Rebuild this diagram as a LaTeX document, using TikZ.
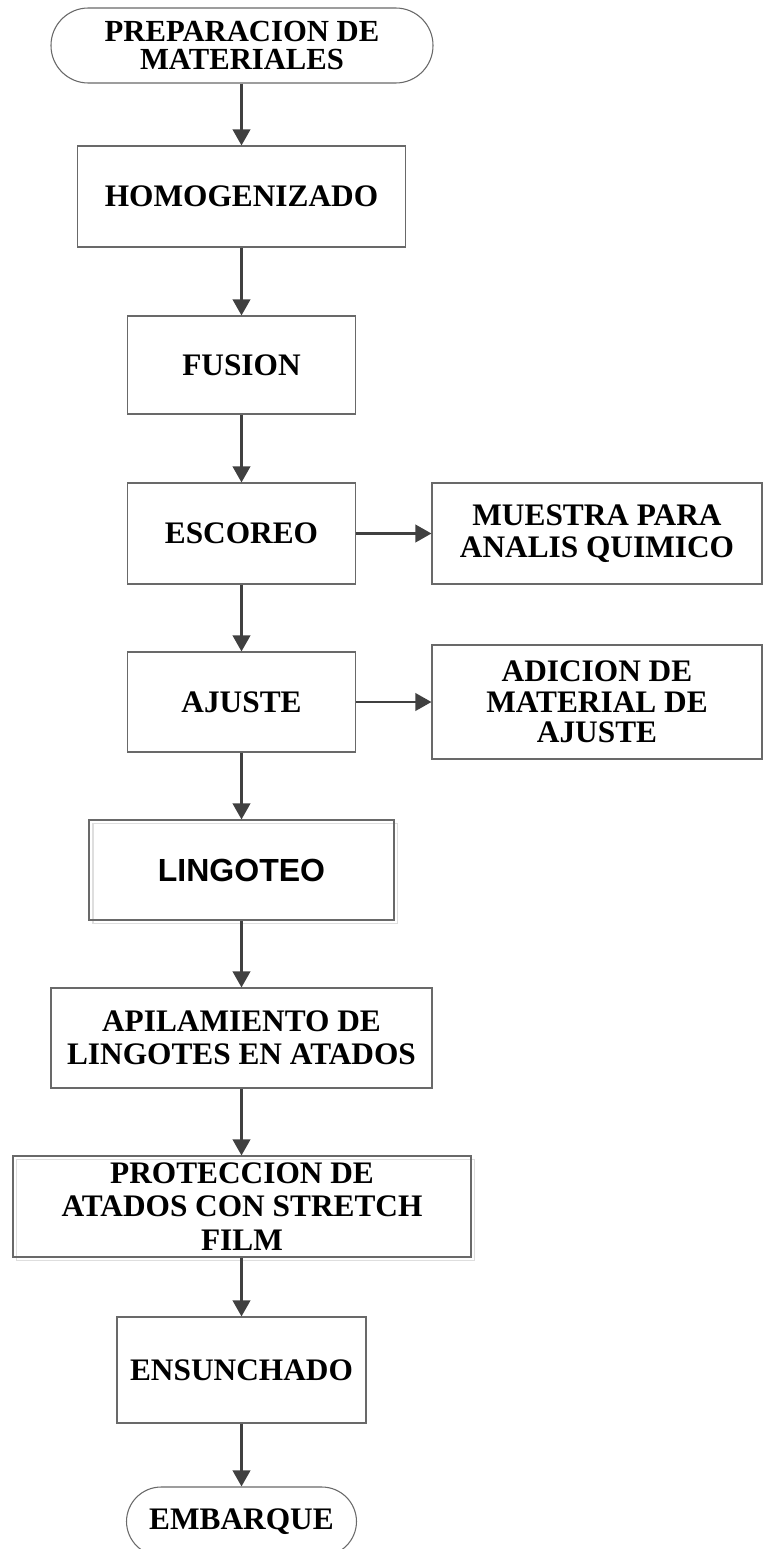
\documentclass[tikz,border=0pt]{standalone}
\usepackage{fontspec}
\setmainfont{Liberation Serif}
\newfontfamily\arialfont{Liberation Sans}
\usetikzlibrary{arrows.meta}
\definecolor{boxline}{RGB}{105,105,105}
\definecolor{arrowc}{RGB}{64,64,64}
\definecolor{shadowc}{RGB}{222,222,222}
\tikzset{
  boxnode/.style={draw=boxline, line width=0.8pt, rectangle, align=center, inner sep=0pt,
    font=\bfseries\fontsize{23.5}{23.5}\selectfont, text=black},
  termnode/.style={boxnode, rounded corners=26pt},
  flowarrow/.style={draw=arrowc, line width=2pt, -{Triangle[length=12pt,width=13pt]}},
  shadowline/.style={draw=shadowc, line width=0.8pt}
}
\begin{document}
\begin{tikzpicture}[x=0.75pt,y=-0.75pt]
\clip (0,0) rectangle (763,1549);
% main column
\node[termnode, minimum width=286.5pt, minimum height=56.25pt, rounded corners=28pt,
  font=\bfseries\fontsize{23}{21.5}\selectfont] (prep) at (242,45.5) {PREPARACION DE\\MATERIALES};
\node[boxnode, minimum width=246pt, minimum height=75.75pt] (homog) at (241.5,196.5) {HOMOGENIZADO};
\node[boxnode, minimum width=171pt, minimum height=73.5pt] (fusion) at (241.5,365) {FUSION};
\node[boxnode, minimum width=171pt, minimum height=75.75pt] (escoreo) at (241.5,533.5) {ESCOREO};
\node[boxnode, minimum width=247.5pt, minimum height=75.75pt,
  font=\bfseries\fontsize{23.5}{23.5}\selectfont] (muestra) at (597,533.5) {MUESTRA PARA\\ANALIS QUIMICO};
\node[boxnode, minimum width=171pt, minimum height=75pt] (ajuste) at (241.5,702) {AJUSTE};
\node[boxnode, minimum width=247.5pt, minimum height=85.5pt,
  font=\bfseries\fontsize{23.5}{23}\selectfont] (adicion) at (597,702) {ADICION DE\\MATERIAL DE\\AJUSTE};
\draw[shadowline] (93,823.5) rectangle (397.5,923.5);
\node[boxnode, minimum width=228.75pt, minimum height=75pt,
  font=\arialfont\bfseries\fontsize{24}{24}\selectfont] (ling) at (241.5,870) {LINGOTEO};
\node[boxnode, minimum width=285.75pt, minimum height=75pt,
  font=\bfseries\fontsize{23.5}{25}\selectfont] (apil) at (241.5,1038) {APILAMIENTO DE\\LINGOTES EN ATADOS};
\draw[shadowline] (16.5,1159.5) rectangle (474.5,1260.5);
\node[boxnode, minimum width=343.5pt, minimum height=75.75pt,
  font=\bfseries\fontsize{23.5}{25}\selectfont] (prot) at (242,1206.5) {PROTECCION DE\\ATADOS CON STRETCH\\FILM};
\node[boxnode, minimum width=186.75pt, minimum height=79.5pt] (ensun) at (241.5,1370) {ENSUNCHADO};
\node[termnode, minimum width=172.5pt, minimum height=51.75pt] (emb) at (241.5,1521.5) {EMBARQUE};
% connectors
\draw[flowarrow] (prep.south -| homog.north) -- (homog.north);
\draw[flowarrow] (homog.south) -- (fusion.north);
\draw[flowarrow] (fusion.south) -- (escoreo.north);
\draw[flowarrow] (escoreo.east) -- (muestra.west);
\draw[flowarrow] (escoreo.south) -- (ajuste.north);
\draw[flowarrow] (ajuste.east) -- (adicion.west);
\draw[flowarrow] (ajuste.south) -- (ling.north);
\draw[flowarrow] (ling.south) -- (apil.north);
\draw[flowarrow] (apil.south) -- (apil.south |- prot.north);
\draw[flowarrow] (prot.south -| ensun.north) -- (ensun.north);
\draw[flowarrow] (ensun.south) -- (emb.north);
\end{tikzpicture}
\end{document}
